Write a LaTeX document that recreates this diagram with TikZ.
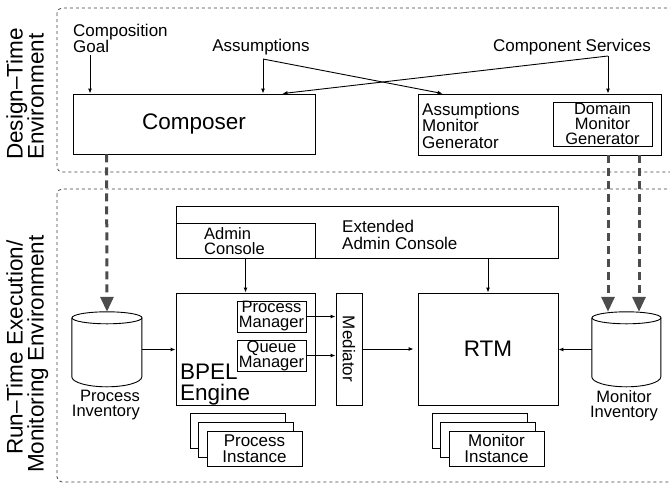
\documentclass[tikz,border=0pt]{standalone}
\usepackage{fontspec}
\setmainfont{Liberation Sans}
\usetikzlibrary{arrows.meta,positioning}

% outline of a database drum round an (invisible) node
\newcommand{\drawdb}[2]{%
  \draw[line width=0.9pt, fill=white] (#1.north west) ++(0,6) -- ++(0,59)
    arc[start angle=180, end angle=0, x radius=#2, y radius=10] -- ++(0,-59);
  \draw[line width=0.9pt] (#1.north) ++(0,6) ellipse[x radius=#2, y radius=6];
}

\begin{document}
\begin{tikzpicture}[x=1pt,y=-1pt,
  txt/.style={font=\fontsize{17}{16.5}\selectfont, inner sep=1pt},
  tight/.style={font=\fontsize{16.5}{15}\selectfont, inner sep=0pt},
  bigtxt/.style={font=\fontsize{22.5}{21}\selectfont, inner sep=1pt},
  box/.style={draw, line width=0.9pt, fill=white, inner sep=0pt},
  env/.style={draw=black!75, line width=0.8pt, dash pattern=on 3pt off 3pt, rounded corners=5pt},
  arr/.style={line width=0.9pt, -{Latex[length=5pt,width=4pt]}},
  deploy/.style={draw=black!70, line width=3pt, dash pattern=on 8pt off 5pt, -{Triangle[length=15pt,width=13pt]}},
  db/.style={inner sep=0pt, minimum height=75pt}
]
\clip (0,0) rectangle (670,483);

%--- ENVIRONMENTS ---
\draw[env] (57,8) rectangle (690,172);
\draw[env] (57,189) rectangle (690,482);
\node[bigtxt, rotate=90, align=left, anchor=north west] (dtlabel) at (5,161) {Design--Time\\Environment};
\node[bigtxt, rotate=90, align=left, anchor=north west] (rtlabel) at (5,474) {\hspace*{18pt}Run--Time Execution/\\Monitoring Environment};

%--- DESIGN TIME ---
\node[txt, align=left, anchor=north west] (goal) at (72,22.5) {Composition\\Goal};
\node[txt, anchor=base] (asm) at (261,51.5) {Assumptions};
\node[txt, anchor=base] (cs) at (572,51) {Component Services};
\coordinate (goalout) at (90,55);
\coordinate (asmfork) at (263,59);
\coordinate (csfork) at (608,56);

\node[box, bigtxt, minimum width=242pt, minimum height=60pt] (composer) at (194,124) {Composer};
\node[box, minimum width=243pt, minimum height=61pt] (amg) at (539.5,124.5) {};
\node[txt, align=left, anchor=north west] (amgtxt) at (421,101.5) {Assumptions\\Monitor\\Generator};
\node[box, tight, align=center, minimum width=99pt, minimum height=44pt] (dmg) at (602.5,124) {Domain\\Monitor\\Generator};

% inputs of the design-time tools
\draw[arr] (goalout) -- (goalout |- composer.north);
\draw[arr] (asmfork) -- (asmfork |- composer.north);
\draw[arr] (asmfork) -- ([xshift=25pt]amg.north west);
\draw[arr] (csfork) -- (csfork |- amg.north);
\draw[arr] (csfork) -- ([xshift=210pt]composer.north west);

%--- RUN TIME ---
\node[box, minimum width=382pt, minimum height=52pt] (ext) at (367,232) {};
\node[txt, align=left, anchor=north west] (exttxt) at (341,219) {Extended\\Admin Console};
\node[box, minimum width=139pt, minimum height=35pt] (admin) at (245.5,240.5) {};
\node[tight, align=left, anchor=north west] (admintxt) at (204,227) {Admin\\Console};

\node[box, minimum width=139pt, minimum height=112pt] (bpel) at (245.5,349) {};
\node[bigtxt, align=left, anchor=south west] (bpeltxt) at (179,406) {BPEL\\Engine};
\node[box, tight, align=center, minimum width=69pt, minimum height=31pt] (pm) at (271.5,316.5) {Process\\Manager};
\node[box, tight, align=center, minimum width=69pt, minimum height=31pt] (qm) at (271.5,355.5) {Queue\\Manager};
\node[box, minimum width=26pt, minimum height=112pt] (med) at (349,349) {};
\node[txt, rotate=-90] (medtxt) at (349,349) {Mediator};
\node[box, bigtxt, minimum width=140pt, minimum height=112pt] (rtm) at (488,349) {RTM};

% inventories
\node[db, minimum width=70pt] (pinv) at (107,349.5) {};
\drawdb{pinv}{35}
\node[tight, align=right, anchor=north east] (pinvtxt) at (140,390) {Process\\Inventory};
\node[db, minimum width=69pt] (minv) at (626.5,349.5) {};
\drawdb{minv}{34.5}
\node[tight, align=center, anchor=north] (minvtxt) at (624,390) {Monitor\\Inventory};

% instances
\node[box, minimum width=95pt, minimum height=35pt] (pi3) at (237.5,430.5) {};
\node[box, minimum width=95pt, minimum height=35pt] (pi2) at (246,439.5) {};
\node[box, txt, align=center, minimum width=95pt, minimum height=35pt] (pi1) at (254.5,448.5) {Process\\Instance};
\node[box, minimum width=95pt, minimum height=35pt] (mi3) at (479.5,430.5) {};
\node[box, minimum width=95pt, minimum height=35pt] (mi2) at (488,439.5) {};
\node[box, txt, align=center, minimum width=95pt, minimum height=35pt] (mi1) at (496.5,448.5) {Monitor\\Instance};

% run-time connections
\draw[arr] (admin.south) -- (bpel.north);
\draw[arr] (ext.south -| rtm.north) -- (rtm.north);
\draw[arr] (pinv.east) -- (pinv.east -| bpel.west);
\draw[arr] (pm.east) -- (pm.east -| med.west);
\draw[arr] (qm.east) -- (qm.east -| med.west);
\draw[arr, shorten >=4pt] (med.east) -- (med.east -| rtm.west);
\draw[arr] (minv.west) -- (minv.west -| rtm.east);

%--- DEPLOYMENT ---
\coordinate (dmgout) at (608,155);
\coordinate (amgout) at (639,155);
\draw[deploy] ([xshift=34pt]composer.south west) -- (pinv.north);
\draw[deploy] (dmgout) -- (dmgout |- minv.north);
\draw[deploy] (amgout) -- (amgout |- minv.north);
\end{tikzpicture}
\end{document}
